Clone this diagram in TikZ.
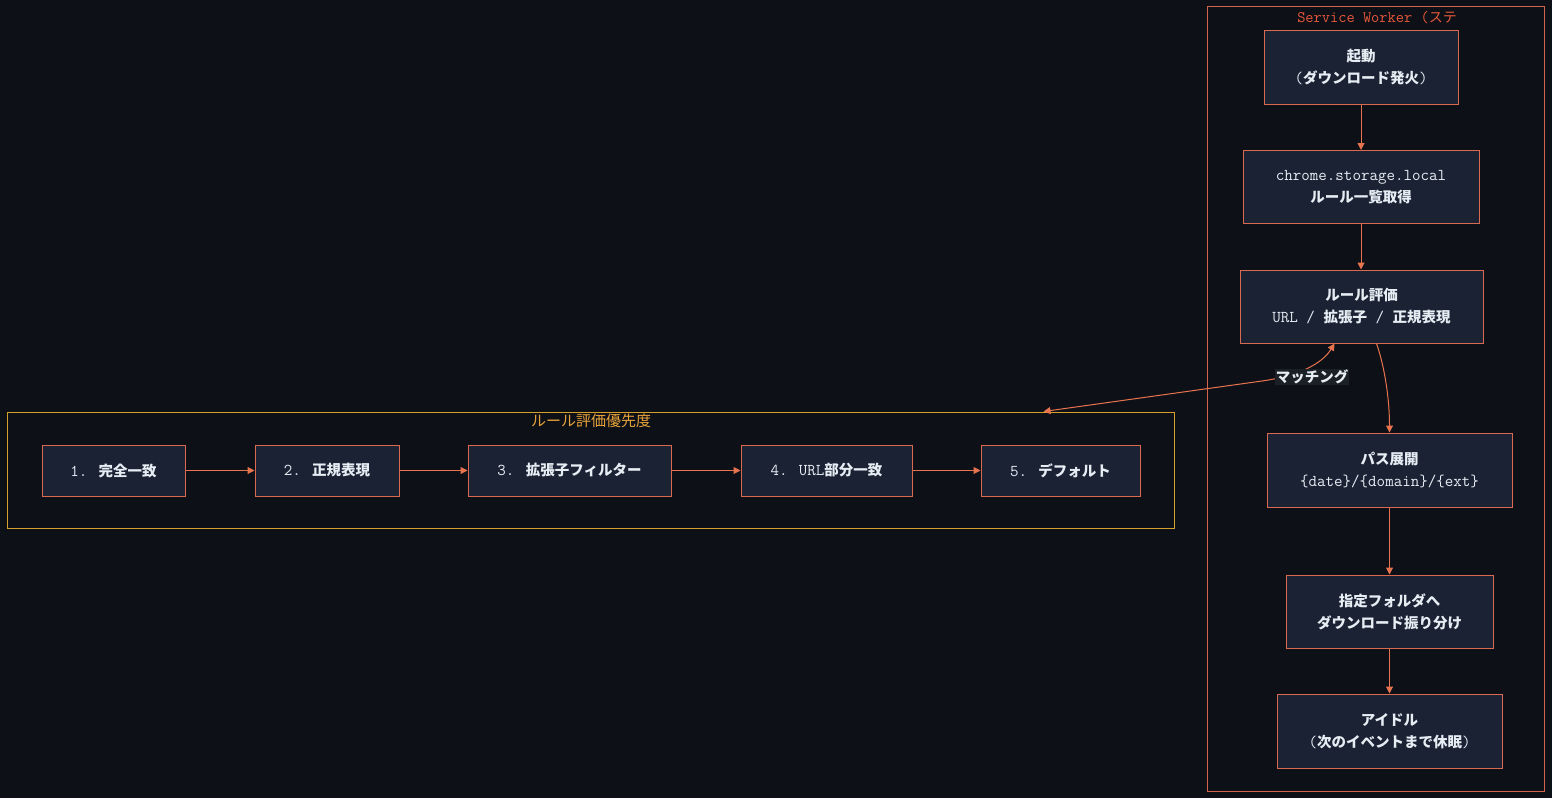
\documentclass[tikz,border=0pt]{standalone}
\usepackage{fontspec}
\setmainfont{Latin Modern Mono}[Scale=1.14]
\newfontfamily\cjk{Noto Sans CJK JP}
\usetikzlibrary{arrows.meta,calc}
\newcommand\J[1]{{\cjk\bfseries #1}}
\newcommand\Jr[1]{{\cjk #1}}
\definecolor{bgc}{HTML}{0D1017}
\definecolor{nodefill}{HTML}{1B2234}
\definecolor{nodeline}{HTML}{D9694F}
\definecolor{edgec}{HTML}{E8744F}
\definecolor{swline}{HTML}{D0644E}
\definecolor{swtitle}{HTML}{E8583A}
\definecolor{goldline}{HTML}{D4A02A}
\definecolor{goldtitle}{HTML}{E8A33A}
\definecolor{txt}{HTML}{E6EDF3}
\definecolor{labbg}{HTML}{1B1F26}
\tikzset{
  x=1pt, y=-1pt,
  box/.style={draw=nodeline, fill=nodefill, line width=1pt, inner sep=0pt,
    align=center, text=txt, font=\fontsize{14.5}{22}\selectfont},
  edge/.style={draw=edgec, line width=1pt, -{Triangle[length=7pt,width=7pt]}},
  cluster/.style={draw, line width=1pt, inner sep=0pt},
}
\begin{document}
\begin{tikzpicture}
\useasboundingbox (0,0) rectangle (1568,808);
\fill[white] (0,0) rectangle (1568,808);
\fill[bgc] (0,0) rectangle (1552,798);

% clusters
\node[cluster, draw=swline, minimum width=337pt, minimum height=784pt] (sw) at (1375.5,399) {};
\node[font=\fontsize{14}{16}\selectfont, text=swtitle] (swt) at (1377,18) {Service Worker (\Jr{ステ}};
\node[cluster, draw=goldline, minimum width=1167pt, minimum height=116pt] (lc) at (590.5,470) {};
\node[font=\fontsize{15}{18}\selectfont, text=goldtitle] (lct) at (591,421) {\Jr{ルール評価優先度}};

% service worker nodes
\node[box, minimum width=194pt, minimum height=73pt] (s1) at (1361,67.5) {\J{起動}\\(\J{ダウンロード発火})};
\node[box, minimum width=236pt, minimum height=73pt] (s2) at (1361,187) {chrome.storage.local\\\J{ルール一覧取得}};
\node[box, minimum width=243pt, minimum height=73pt] (s3) at (1361.5,306.5) {\J{ルール評価}\\URL / \J{拡張子} / \J{正規表現}};
\node[box, minimum width=245pt, minimum height=74pt] (s4) at (1389.5,470) {\J{パス展開}\\\{date\}/\{domain\}/\{ext\}};
\node[box, minimum width=207pt, minimum height=73pt] (s5) at (1389.5,611.5) {\J{指定フォルダへ}\\\J{ダウンロード振り分け}};
\node[box, minimum width=225pt, minimum height=74pt] (s6) at (1389.5,731) {\J{アイドル}\\(\J{次のイベントまで休眠})};

% priority nodes
\node[box, minimum width=143pt, minimum height=51pt] (p1) at (113.5,470.5) {1. \J{完全一致}};
\node[box, minimum width=144pt, minimum height=51pt] (p2) at (327,470.5) {2. \J{正規表現}};
\node[box, minimum width=203pt, minimum height=51pt] (p3) at (569.5,470.5) {3. \J{拡張子フィルター}};
\node[box, minimum width=171pt, minimum height=51pt] (p4) at (826.5,470.5) {4. URL\J{部分一致}};
\node[box, minimum width=159pt, minimum height=51pt] (p5) at (1060.5,470.5) {5. \J{デフォルト}};

% edges
\draw[edge] (s1) -- (s2);
\draw[edge] (s2.south) -- (s2.south |- s3.north);
\draw[edge] ($(s3.south)+(15,0)$) .. controls (1385,368) and (1389.5,400) .. (s4.north);
\draw[edge] (s4) -- (s5);
\draw[edge] (s5) -- (s6);
\draw[edge] (p1) -- (p2);
\draw[edge] (p2) -- (p3);
\draw[edge] (p3) -- (p4);
\draw[edge] (p4) -- (p5);

\draw[edge, {Triangle[length=7pt,width=7pt]}-{Triangle[length=7pt,width=7pt]}]
  ($(lc.north)+(453,0)$) -- (1262,381) .. controls (1298,376) and (1322,364) .. ($(s3.south)+(-27,0)$);
\node[fill=labbg, text=txt, inner sep=1pt, font=\fontsize{14.5}{18}\selectfont] (lab) at (1312,377) {\J{マッチング}};
\end{tikzpicture}
\end{document}
